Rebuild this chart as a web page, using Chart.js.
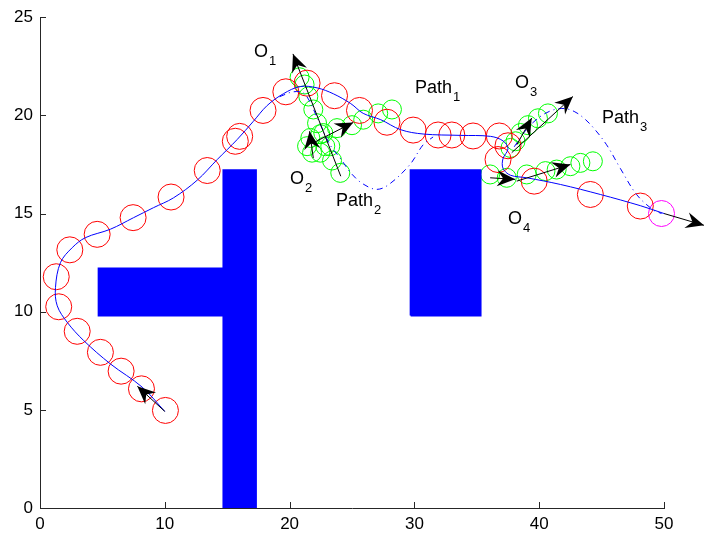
<!DOCTYPE html>
<html>
<head>
<meta charset="utf-8">
<script src="https://cdn.jsdelivr.net/npm/chart.js@4"></script>
<style>
  body { margin: 0; background: #fff; }
  canvas { display: block; }
</style>
</head>
<body>
<canvas id="chart" width="704" height="536"></canvas>
<script>
// planned robot path (solid blue)
const robotPath = [[10.0,4.92],[8.18,6.16],[5.64,7.34],[3.5,8.53],[2.18,9.46],[1.38,10.3],[1.24,11.23],[1.64,12.5],
  [2.58,13.26],[3.64,13.77],[5.64,14.2],[7.5,14.79],[9.1,15.3],[10.7,15.8],[12.6,16.7],[14.2,17.75],[15.8,18.77],
  [17.1,19.7],[18.2,20.5],[19.5,21.1],[20.86,21.47],[22.2,21.4],[23.5,21.1],[24.9,20.6],[25.9,20.1],[27.3,19.78],
  [28.9,19.27],[30.7,19.05],[33.7,18.98],[36.1,18.93],[37.1,18.7],[37.5,18.3],[37.1,17.8],[37.1,17.3],[37.7,16.95],
  [39.0,16.82],[41.7,16.48],[44.9,15.97],[48.1,15.4],[50.0,15.0]];

// alternative paths (dash-dot)
const path2 = [[19.2,20.95],[20.3,21.2],[21.2,21.1],[22.2,19.9],[23.24,18.5],[24.04,17.83],[25.0,17.0],[25.9,16.5],
  [27.0,16.23],[28.0,16.5],[29.65,17.5],[30.7,18.5],[31.5,18.9]];
const path3 = [[38.0,18.4],[39.0,19.3],[40.0,19.9],[41.0,20.25],[42.0,20.35],[42.8,20.2],[43.5,19.9],[44.3,19.4],
  [45.4,18.5],[46.5,17.3],[47.8,15.97],[49.1,15.2],[49.8,15.0]];

// robot positions (red circles) and goal (magenta)
const robotPos = [[10.05,4.97],[8.13,6.07],[6.5,6.97],[4.84,7.93],[2.98,9.0],[1.5,10.25],[1.3,11.78],[2.39,13.15],
  [4.58,13.94],[7.46,14.79],[10.5,15.84],[13.4,17.19],[15.65,18.68],[16.0,18.93],[17.87,20.25],[19.7,21.2],
  [21.4,21.64],[23.6,21.0],[25.6,20.25],[27.8,19.65],[29.9,19.25],[31.9,19.0],[33.0,19.0],[34.7,18.95],
  [36.8,18.95],[37.5,18.45],[36.7,17.75],[39.6,16.65],[44.1,15.97],[48.1,15.38]];
const goalPos = [[49.8,15.0]];

// moving obstacles (green circles)
const obs1 = [[24.06,17.07],[23.4,17.7],[22.86,18.43],[22.46,19.04],[22.2,19.6],[21.9,20.3],[21.5,20.96],[21.2,21.57],[20.8,21.94]];
const obs2 = [[21.4,18.43],[21.8,18.1],[21.66,18.85],[22.46,18.1],[22.7,19.1],[23.26,18.43],[23.8,19.35],[25.0,19.5],
  [25.9,19.78],[27.1,20.1],[28.2,20.3]];
const obs3 = [[37.7,18.34],[38.1,18.68],[38.5,19.1],[39.1,19.5],[39.9,19.85],[40.7,20.1]];
const obs4 = [[36.07,16.99],[37.4,16.82],[39.0,16.99],[40.5,17.16],[41.4,17.24],[42.5,17.41],[43.3,17.58],[44.3,17.66]];

// static obstacles (blue blocks)
const wallT = [[14.7,0],[17.3,0],[17.3,17.2],[14.7,17.2],[14.7,12.2],[4.7,12.2],[4.7,9.8],[14.7,9.8],[14.7,0]];
const wallBox = [[29.7,9.8],[35.3,9.8],[35.3,17.2],[29.7,17.2],[29.7,9.8]];

// arrows: [x0, y0, x1, y1]
const arrows = [[10.0,4.92,7.8,6.2],[24.1,16.9,20.27,23.13],[21.9,17.83,21.6,19.19],[21.9,18.6,25.1,19.64],
  [37.8,18.1,42.7,20.96],[38.2,18.5,39.4,19.86],[36.07,16.82,38.07,16.74],[38.2,16.65,42.5,17.5],[50.0,15.0,53.2,14.4]];

// text labels: [main, subscript, x, y]
const labels = [['O','1',17.15,22.97],['O','2',20.03,16.51],['Path','1',30.05,21.14],['Path','2',23.72,15.4],
  ['O','3',38.06,21.39],['Path','3',45.03,19.63],['O','4',37.5,14.48]];

const xTicks = [0, 10, 20, 30, 40, 50];
const yTicks = [0, 5, 10, 15, 20, 25];

const FONT = '"Liberation Sans", Arial, Helvetica, sans-serif';
const pts = arr => arr.map(([x, y]) => ({x, y}));

function circles(data, color, r) {
  return { type: 'scatter', data: pts(data), showLine: false, pointStyle: 'circle', pointRadius: r,
    pointBorderColor: color, pointBackgroundColor: 'rgba(0,0,0,0)', pointBorderWidth: 1, clip: false };
}
function line(data, dash) {
  return { type: 'line', data: pts(data), borderColor: '#0000ff', borderWidth: 1, borderDash: dash || [],
    pointRadius: 0, tension: 0.35, fill: false, clip: false };
}
function block(data) {
  return { type: 'line', data: pts(data), borderColor: '#0000ff', backgroundColor: '#0000ff', borderWidth: 2,
    pointRadius: 0, tension: 0, fill: 'shape' };
}

const arrowPlugin = {
  id: 'arrows',
  afterDatasetsDraw(chart) {
    const {ctx, scales: {x, y}} = chart;
    ctx.save();
    ctx.strokeStyle = '#000';
    ctx.fillStyle = '#000';
    ctx.lineWidth = 1;
    arrows.forEach(([x0, y0, x1, y1]) => {
      const ax = x.getPixelForValue(x0), ay = y.getPixelForValue(y0);
      const bx = x.getPixelForValue(x1), by = y.getPixelForValue(y1);
      ctx.beginPath();
      ctx.moveTo(ax, ay);
      ctx.lineTo(bx, by);
      ctx.stroke();
      const a = Math.atan2(by - ay, bx - ax);
      const L = 18, W = 8, N = 12;
      const cos = Math.cos(a), sin = Math.sin(a);
      ctx.beginPath();
      ctx.moveTo(bx, by);
      ctx.lineTo(bx - L * cos - W * sin, by - L * sin + W * cos);
      ctx.lineTo(bx - N * cos, by - N * sin);
      ctx.lineTo(bx - L * cos + W * sin, by - L * sin - W * cos);
      ctx.closePath();
      ctx.fill();
    });
    ctx.restore();
  }
};

const labelPlugin = {
  id: 'labels',
  afterDatasetsDraw(chart) {
    const {ctx, scales: {x, y}} = chart;
    ctx.save();
    ctx.fillStyle = '#000';
    ctx.textBaseline = 'alphabetic';
    ctx.textAlign = 'left';
    labels.forEach(([main, sub, lx, ly]) => {
      const px = x.getPixelForValue(lx), py = y.getPixelForValue(ly);
      ctx.font = '18px ' + FONT;
      ctx.fillText(main, px, py);
      const w = ctx.measureText(main).width;
      ctx.font = '13px ' + FONT;
      ctx.fillText(sub, px + w + 1, py + 8);
    });
    ctx.restore();
  }
};

// matlab style ticks pointing inward
const tickPlugin = {
  id: 'inTicks',
  afterDraw(chart) {
    const {ctx, chartArea: a, scales: {x, y}} = chart;
    ctx.save();
    ctx.strokeStyle = '#262626';
    ctx.lineWidth = 1;
    ctx.beginPath();
    xTicks.forEach(v => {
      const px = Math.round(x.getPixelForValue(v)) + 0.5;
      ctx.moveTo(px, a.bottom);
      ctx.lineTo(px, a.bottom - 6);
    });
    yTicks.forEach(v => {
      const py = Math.round(y.getPixelForValue(v)) + 0.5;
      ctx.moveTo(a.left, py);
      ctx.lineTo(a.left + 6, py);
    });
    ctx.stroke();
    ctx.restore();
  }
};

new Chart(document.getElementById('chart'), {
  type: 'scatter',
  data: {
    datasets: [
      block(wallT),
      block(wallBox),
      line(path2, [6, 4, 1, 4]),
      line(path3, [6, 4, 1, 4]),
      line(robotPath),
      circles(robotPos, '#ff0000', 13),
      circles(goalPos, '#ff00ff', 13),
      circles(obs1, '#00ff00', 9.5),
      circles(obs2, '#00ff00', 9.5),
      circles(obs3, '#00ff00', 9.5),
      circles(obs4, '#00ff00', 9.5)
    ]
  },
  options: {
    responsive: false,
    animation: false,
    layout: { padding: { left: 0, right: 40, top: 15, bottom: 0 } },
    plugins: { legend: { display: false }, tooltip: { enabled: false } },
    scales: {
      x: {
        type: 'linear', min: 0, max: 50,
        afterFit: s => { s.height = 28; },
        afterBuildTicks: s => { s.ticks = xTicks.map(v => ({value: v})); },
        grid: { display: false, drawTicks: false },
        border: { display: true, color: '#262626', width: 1 },
        ticks: { color: '#000', padding: 6, font: { family: FONT, size: 17 } }
      },
      y: {
        type: 'linear', min: 0, max: 25,
        afterFit: s => { s.width = 40; },
        afterBuildTicks: s => { s.ticks = yTicks.map(v => ({value: v})); },
        grid: { display: false, drawTicks: false },
        border: { display: true, color: '#262626', width: 1 },
        ticks: { color: '#000', padding: 7, font: { family: FONT, size: 17 } }
      }
    }
  },
  plugins: [arrowPlugin, labelPlugin, tickPlugin]
});
</script>
</body>
</html>
